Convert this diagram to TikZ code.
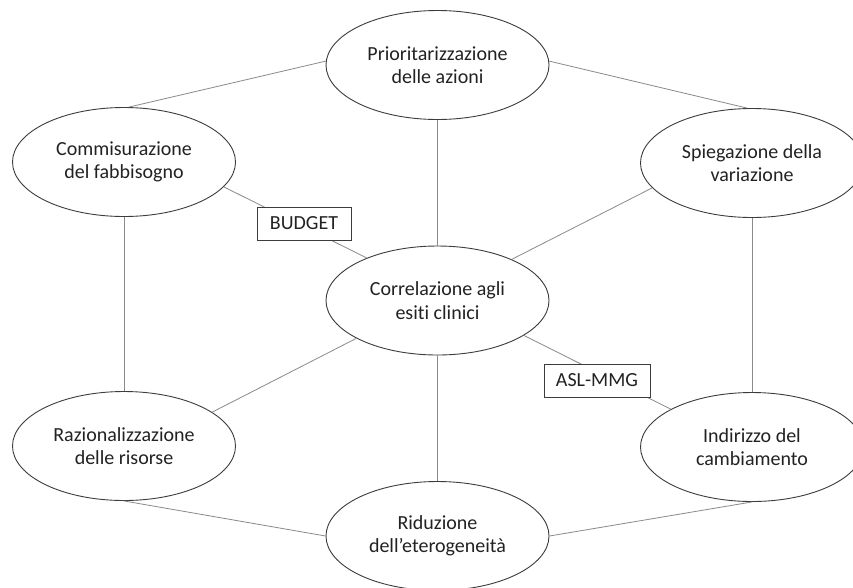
\documentclass[tikz,border=0pt]{standalone}
\usepackage{fontspec}
\setmainfont{Carlito}[Ligatures=NoCommon]
\usetikzlibrary{shapes.geometric}
\definecolor{txt}{HTML}{222222}
\definecolor{edge}{HTML}{3C3C3C}
\definecolor{conn}{HTML}{8A8A8A}
\tikzset{
  bubble/.style={ellipse, draw=edge, line width=0.9pt, fill=white, minimum width=223pt, minimum height=109pt, inner sep=0pt, align=center, text=txt, font=\fontsize{20}{23.5}\selectfont},
  tag/.style={rectangle, draw=edge, line width=0.9pt, fill=white, minimum height=33pt, inner sep=0pt, text=txt, font=\fontsize{20}{23.5}\selectfont},
  conn/.style={draw=conn, line width=0.8pt}
}
\begin{document}
\begin{tikzpicture}[x=1pt,y=-1pt]
\useasboundingbox (0,0) rectangle (853,587);
\fill[white] (0,0) rectangle (853,587);
\node[bubble] (t)  at (437.5,65)  {Prioritarizzazione\\delle azioni};
\node[bubble] (lu) at (124,162)   {Commisurazione\\del fabbisogno};
\node[bubble] (ru) at (752,163)   {Spiegazione della\\variazione};
\node[bubble] (c)  at (437.5,300.5) {Correlazione agli\\esiti clinici};
\node[bubble] (ll) at (124,446)   {Razionalizzazione\\delle risorse};
\node[bubble] (lr) at (752,447)   {Indirizzo del\\cambiamento};
\node[bubble] (b)  at (437.5,536) {Riduzione\\dell’eterogeneità};
% connectors
\path[conn] (lu.85) -- (t.178);
\path[conn] (t.2) -- (ru.95);
\path[conn] (lu.south) -- (ll.north);
\path[conn] (ru.south) -- (lr.north);
\path[conn] (t.south) -- (c.north);
\path[conn] (c.south) -- (b.north);
\path[conn] (ll.south) -- (b.west);
\path[conn] (lr.south) -- (b.east);
\path[conn] (c.29) -- (ru.194);
\path[conn] (c.205) -- (ll.21.6);
\path[conn] (lu.-14) -- (c.149);
\path[conn] (c.-22.6) -- (lr.155);
\node[tag, minimum width=94pt] (budget) at (304,223.5) {BUDGET\hspace{6pt}};
\node[tag, minimum width=106pt] (asl) at (597,380.5) {ASL-MMG\hspace{9pt}};
\end{tikzpicture}
\end{document}
